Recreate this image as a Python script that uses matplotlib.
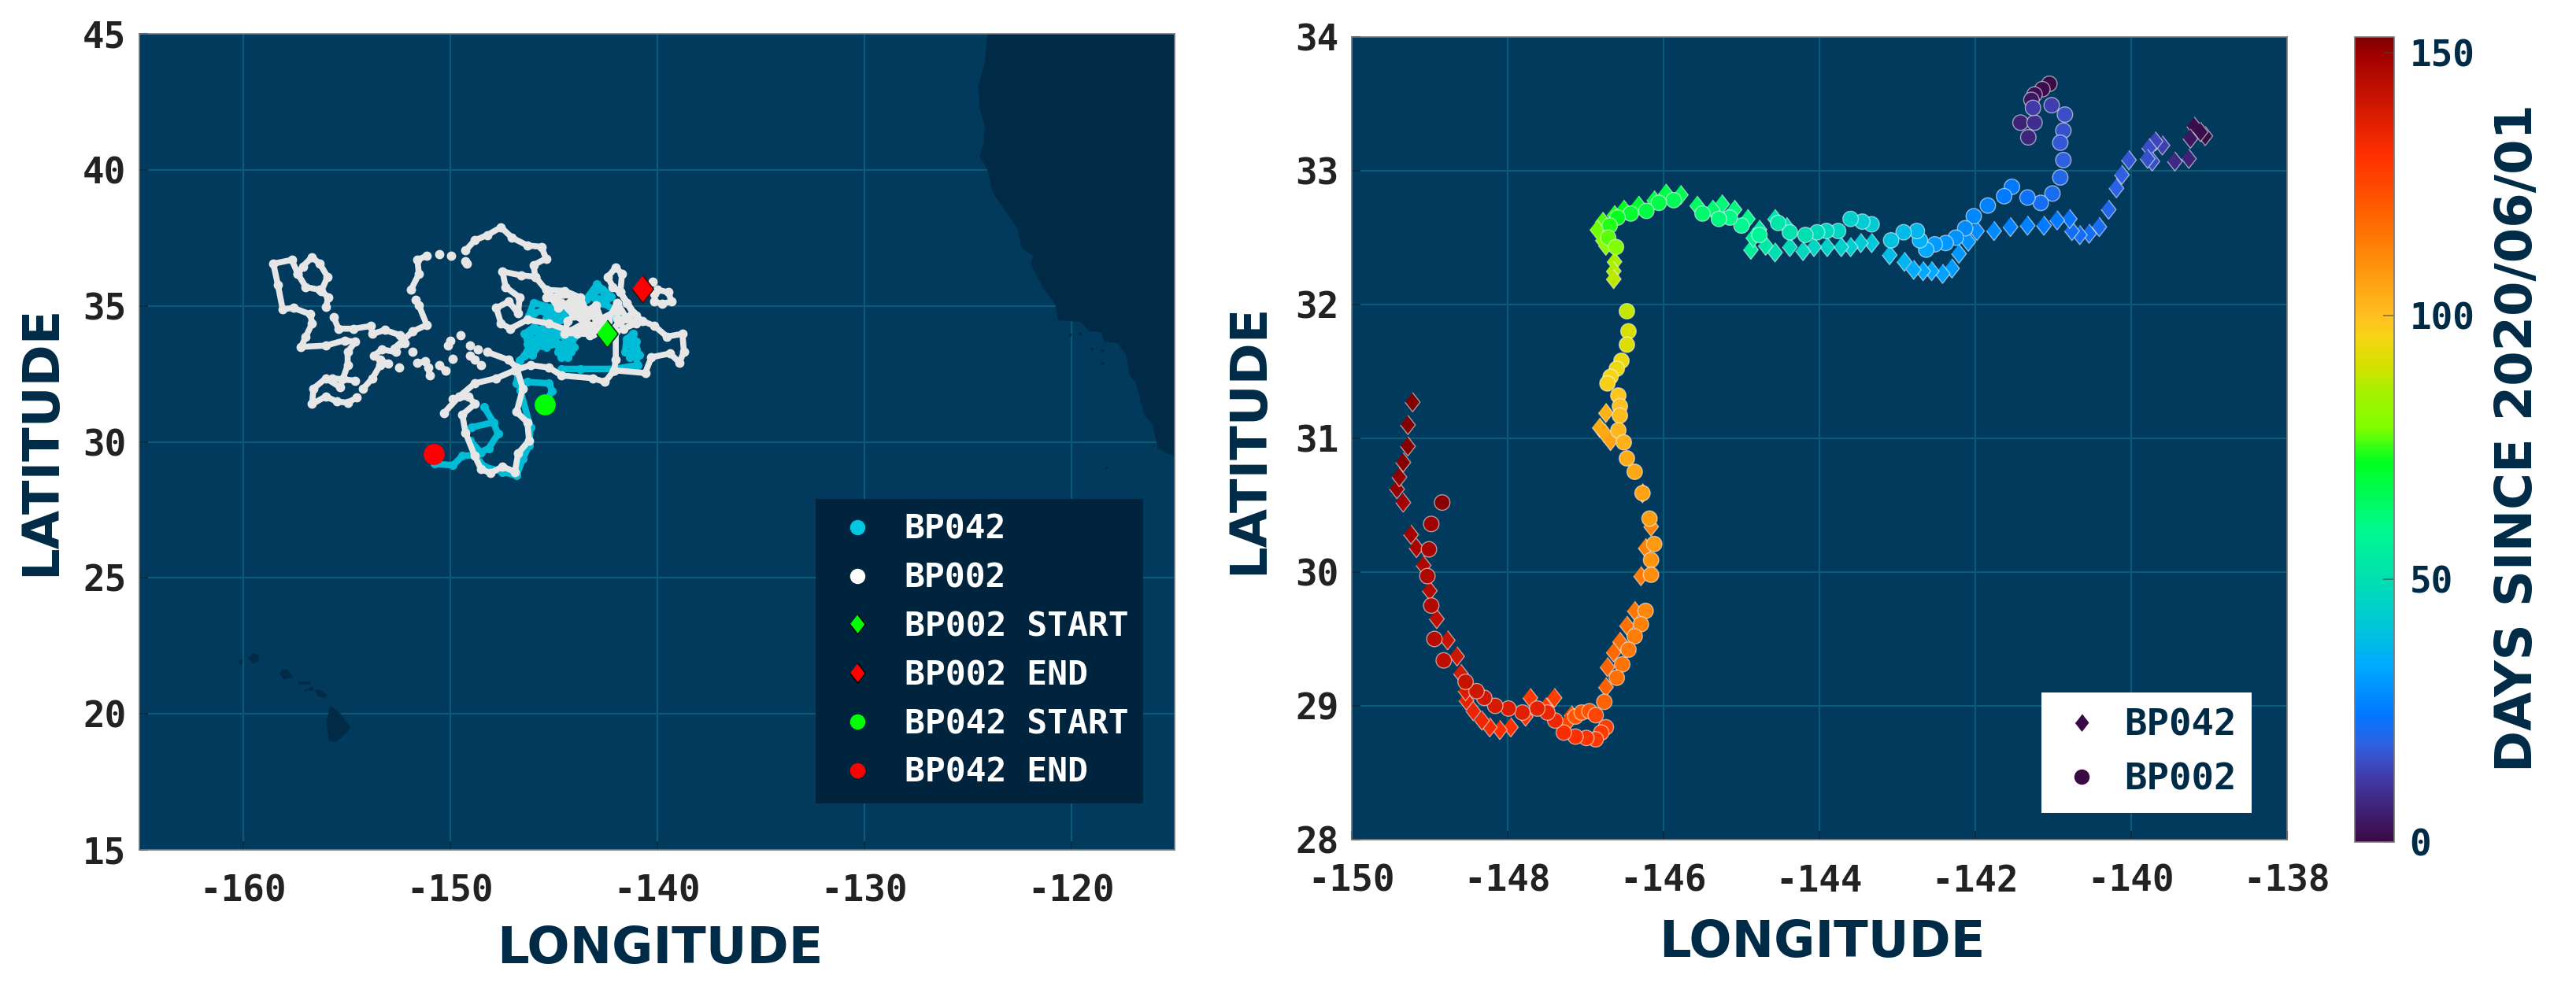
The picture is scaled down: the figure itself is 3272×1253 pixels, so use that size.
import numpy as np
import matplotlib
matplotlib.use('Agg')
import matplotlib.pyplot as plt
from matplotlib.colors import LinearSegmentedColormap, Normalize
from matplotlib.lines import Line2D

nan = np.nan

# land, left map
coast_lon = [-124.04, -124.17, -124.49, -124.42, -124.17, -124.23, -124.42, -124.04, -123.79, -123.09,
             -122.59, -122.39, -121.83, -121.95, -121.32, -120.75, -120.62, -119.54, -119.16, -118.53,
             -118.40, -117.77, -117.33, -117.19, -116.88, -116.63, -116.44, -116.06, -115.81, -115.08, -115.0, -115.0]
coast_lat = [45.0, 43.93, 43.05, 42.27, 41.61, 40.94, 40.50, 40.0, 39.17, 38.39,
             37.84, 37.12, 36.84, 36.51, 35.63, 35.02, 34.46, 34.41, 34.08, 34.02,
             33.69, 33.63, 33.19, 32.47, 32.19, 31.42, 30.97, 30.64, 29.76, 29.48, 29.45, 45.0]
hawaii_lon = [[-155.77, -155.32, -154.82, -155.01, -155.51, -155.83, -155.96],
              [-156.34, -155.96, -156.02, -156.34, -156.50],
              [-157.03, -156.59, -156.65, -157.0],
              [-157.29, -156.72, -156.75, -157.29],
              [-158.11, -157.86, -157.60, -158.05, -158.20],
              [-159.51, -159.25, -159.25, -159.51, -159.73],
              [-160.15, -160.02, -160.05, -160.17]]
hawaii_lat = [[20.27, 20.03, 19.50, 19.31, 18.97, 19.02, 19.74],
              [20.90, 20.70, 20.58, 20.64, 20.85],
              [20.90, 20.86, 20.99, 20.82],
              [21.17, 21.17, 21.10, 21.10],
              [21.62, 21.62, 21.35, 21.28, 21.48],
              [22.22, 22.15, 21.93, 21.86, 22.03],
              [21.95, 21.98, 21.85, 21.83]]
islet_lon = [-120.05, -119.6, -119.0, -118.5, -118.5, -118.3]
islet_lat = [33.95, 33.97, 33.42, 33.37, 32.92, 29.05]

# BP002 drifter track, nan splits the pieces
bp002_lon = [-155.99, -155.87, -156.21, -155.91, -156.29, -156.66, -157.11, -157.34, -156.96, -156.29, nan,
             -157.34, -157.64, -158.53, -158.31, -158.08, -157.56, -156.74, -156.66, -156.96, -157.19,
             -155.99, -155.09, -154.57, -154.94, -154.94, -155.16, -155.31, -155.99, -156.59, -156.66,
             -155.99, -155.46, -154.94, -154.49, nan,
             -155.70, -154.57, nan,
             -155.61, -155.39, -154.64, -153.82, -153.74, -153.14, -152.40, -152.17, -152.69, -151.80,
             -151.12, -151.50, -151.65, nan,
             -151.87, -151.50, -151.57, -151.12, nan, -150.52, nan, -149.93, nan, -149.25, -149.18, nan,
             -149.25, -148.80, -148.20, -147.53, -147.01, -146.26, -145.58, -145.36, -145.96, -145.88,
             -145.36, -144.46, -143.71, -143.41, -142.89, -141.92, nan,
             -145.88, -146.56, -147.46, -147.31, -146.63, -146.71, -147.16, -147.76, -147.53, -147.08,
             -146.26, -145.21, -144.16, -143.11, -144.01, -144.61, -145.36, -144.16, -143.56, -142.96,
             -142.66, -143.41, -143.86, -143.11, -142.22, -141.77, -141.17, -141.47, -141.77, -141.69,
             -141.99, -142.37, -142.14, -141.77, -141.02, -140.72, -140.12, -139.52, -138.77, -138.70,
             -138.92, -139.37, -140.27, -140.57, -142.07, -142.51, -143.11, -144.61, -145.21, -146.11,
             -146.86, -147.76, -148.80, -149.55, -150.30, nan,
             -145.21, -144.76, -144.24, -143.87, -144.31, -144.46, -143.56, -142.96, -142.81, -143.26,
             -142.37, -141.92, -141.47, -141.02, -141.62, -141.92, nan,
             -141.99, -141.99, -142.07, nan,
             -140.2, nan, -140.12, -140.12, -139.75, -139.30, -139.45, -139.97, -140.12, nan,
             -149.85, -149.10, -148.80, -149.40, -149.25, -148.80, -148.50, -148.05, -147.46, -146.86,
             -146.71, -146.18, -146.26, -146.78, -146.48, -146.78, -147.16, -148.20, nan,
             -148.50, nan, -148.80, nan, -149.03, nan, -148.65, nan, -149.03, nan, -149.48, nan, -150.0, -150.08, nan,
             -149.85, nan, -150.52, -150.22, nan, -151.57, -151.20, -151.05, -150.97, nan,
             -152.47, nan, -152.99, -153.37, -153.67, -153.29, -152.62, nan, -151.80, nan,
             -153.37, -153.74, -154.19]
bp002_lat = [34.97, 35.31, 35.55, 36.07, 36.55, 36.79, 36.45, 36.17, 35.69, 35.59, nan,
             36.17, 36.69, 36.55, 35.78, 34.88, 34.92, 34.69, 34.35, 33.87, 33.49,
             33.54, 33.73, 33.68, 33.30, 32.82, 32.34, 32.01, 32.34, 31.96, 31.39,
             31.67, 31.48, 31.44, 31.63, nan,
             32.34, 32.25, nan,
             34.59, 34.16, 34.16, 34.26, 33.97, 34.11, 33.92, 33.63, 33.44, 34.06,
             34.30, 35.02, 35.21, nan,
             35.61, 36.17, 36.69, 36.84, nan, 36.89, nan, 36.84, nan, 36.65, 36.55, nan,
             37.03, 37.41, 37.60, 37.89, 37.51, 37.22, 37.17, 36.74, 36.50, 36.07,
             35.59, 35.55, 35.31, 34.83, 34.45, 34.83, nan,
             36.07, 36.12, 36.26, 35.69, 35.31, 34.73, 35.16, 34.92, 34.35, 34.16,
             34.49, 34.35, 34.06, 34.26, 34.64, 35.12, 35.31, 35.40, 34.73, 35.02,
             34.45, 34.16, 33.97, 33.97, 34.06, 34.45, 34.73, 35.12, 35.50, 36.17,
             36.41, 36.07, 35.69, 35.50, 34.64, 34.45, 34.26, 33.87, 33.97, 33.30,
             32.92, 33.25, 33.11, 32.53, 32.63, 32.20, 32.34, 32.44, 32.73, 32.82,
             32.63, 32.34, 32.15, 31.67, 31.05, nan,
             35.40, 34.92, 35.12, 34.73, 34.45, 33.97, 34.35, 34.83, 34.16, 33.92,
             34.45, 35.12, 34.54, 34.35, 34.16, 34.54, nan,
             34.06, 33.01, 32.63, nan,
             35.88, nan, 35.45, 35.16, 35.07, 35.16, 35.50, 35.59, 35.45, nan,
             31.58, 31.67, 31.39, 31.00, 30.34, 29.48, 29.00, 28.85, 29.09, 28.90,
             29.57, 30.05, 30.72, 31.10, 31.96, 32.73, 33.01, 33.30, nan,
             32.82, nan, 33.01, nan, 33.16, nan, 33.40, nan, 33.54, nan, 33.92, nan, 33.73, 33.54, nan,
             33.06, nan, 32.82, 32.63, nan, 32.90, 32.96, 32.73, 32.44, nan,
             32.73, nan, 32.87, 33.01, 33.16, 33.40, 33.30, nan, 33.30, nan,
             32.82, 32.34, 31.96]

# BP042 drifter track
bp042_lon = [-145.43, -145.06, -145.21, -146.26, -146.78, -146.65, -146.41, -146.11, -146.41, -145.96,
             -145.36, -145.36, -144.91, -144.61, -144.16, -144.01, -144.76, -145.73, -145.96, -146.26,
             -145.55, -145.10, -144.50, nan,
             -146.26, -145.58, -145.58, -145.06, -144.46, -144.31, -144.76, -144.01, -144.46, -146.11,
             -146.04, -145.14, nan,
             -146.18, -145.96, -145.06, -144.61, -145.36, -144.40, -143.41, -142.89, -142.22, -142.66,
             -141.77, -142.29, nan,
             -145.96, -145.51, -145.06, -144.46, -144.84, nan,
             -143.11, -142.66, -142.44, -143.03, nan,
             -141.17, -140.87, -141.54, -141.47, -141.17, -140.94, -142.07, -143.71, -144.61, nan,
             -141.39, -141.02, -141.32, nan,
             -146.60, -146.11, -146.18, -146.48, -146.78, -147.46, -148.35, -148.80, -149.40, -149.85, -150.75, nan,
             -148.80, -148.13, -147.68, -147.90, -148.35, nan,
             -148.95, -147.90, nan, -149.03, -148.50]
bp042_lat = [31.39, 31.87, 32.15, 32.20, 32.15, 33.0, 33.16, 33.59, 33.97, 34.21,
             34.06, 33.49, 33.87, 33.11, 33.30, 33.87, 34.16, 33.87, 33.40, 33.60,
             33.55, 33.60, 33.50, nan,
             33.78, 33.73, 34.16, 33.63, 33.59, 33.11, 33.30, 33.49, 33.87, 34.06,
             33.20, 34.06, nan,
             34.64, 35.12, 34.92, 34.49, 34.54, 34.85, 35.26, 35.79, 35.35, 35.12,
             34.73, 34.59, nan,
             34.73, 34.83, 34.64, 34.73, 34.45, nan,
             35.50, 35.59, 35.21, 35.31, nan,
             33.97, 33.20, 33.30, 33.78, 33.97, 32.82, 32.68, 32.68, 32.68, nan,
             33.59, 33.68, 33.11, nan,
             31.90, 30.53, 29.86, 29.38, 28.76, 28.90, 29.09, 29.52, 29.48, 29.14, 29.19, nan,
             29.52, 29.76, 30.29, 30.72, 31.29, nan,
             30.53, 30.72, nan, 30.05, 29.60]

# start and end of each track
bp002_start = (-142.4, 33.97)
bp002_end = (-140.69, 35.64)
bp042_start = (-145.43, 31.37)
bp042_end = (-150.79, 29.55)

# right map, coloured by day
dia_lon = [-139.05, -139.19, -139.11, -139.24, -139.26, -139.44, -139.60, -139.69, -139.77, -139.73,
           -139.79, -140.03, -140.12, -140.19, -140.29, -140.41, -140.54, -140.66, -140.76, -140.79,
           -140.95, -141.12, -141.33, -141.55, -141.76, -141.98, -142.09, -142.21, -142.30, -142.42,
           -142.56, -142.67, -142.79, -142.91, -143.10, -143.33, -143.47, -143.60, -143.72, -143.90,
           -144.07, -144.21, -144.38, -144.42, -144.57, -144.57, -144.69, -144.77, -144.88, -144.85,
           -144.92, -145.09, -145.25, -145.37, -145.57, -145.78, -145.97, -146.12, -146.32, -146.51,
           -146.63, -146.78, -146.85, -146.78, -146.74, -146.63, -146.64, -146.64,
           -146.74, -146.82, -146.76, -146.68, -146.27, -146.16, -146.23, -146.29, -146.37, -146.47,
           -146.56, -146.64, -146.72, -146.74, -147.18, -147.24, -147.40, -147.51, -147.71, -147.77,
           -147.96, -148.10, -148.23, -148.33, -148.44, -148.53, -148.54, -148.60, -148.65, -148.77,
           -148.91, -149.00, -149.08, -149.17, -149.24, -149.34, -149.42, -149.39, -149.34, -149.28,
           -149.28, -149.22]
dia_lat = [33.26, 33.33, 33.29, 33.24, 33.09, 33.07, 33.19, 33.22, 33.17, 33.07,
           33.09, 33.08, 32.97, 32.87, 32.71, 32.58, 32.53, 32.52, 32.55, 32.64,
           32.63, 32.59, 32.59, 32.58, 32.55, 32.55, 32.47, 32.38, 32.27, 32.23,
           32.25, 32.25, 32.26, 32.32, 32.37, 32.46, 32.46, 32.43, 32.43, 32.43,
           32.43, 32.40, 32.43, 32.58, 32.39, 32.64, 32.44, 32.56, 32.41, 32.50,
           32.64, 32.71, 32.75, 32.71, 32.74, 32.82, 32.83, 32.78, 32.74, 32.71,
           32.67, 32.62, 32.56, 32.48, 32.44, 32.32, 32.25, 32.19,
           31.19, 31.08, 31.04, 30.98, 30.59, 30.34, 30.18, 29.97, 29.71, 29.60,
           29.48, 29.40, 29.29, 29.14, 28.93, 28.87, 29.06, 28.99, 29.06, 28.92,
           28.84, 28.82, 28.84, 28.89, 28.96, 29.04, 29.11, 29.24, 29.37, 29.49,
           29.65, 29.86, 30.05, 30.18, 30.28, 30.52, 30.62, 30.71, 30.82, 30.94,
           31.10, 31.27]
dia_day = [0, 1, 1, 3, 6, 8, 13, 14, 15, 15,
           16, 17, 18, 19, 20, 21, 22, 22, 22, 23,
           24, 25, 26, 26, 27, 28, 29, 30, 31, 32,
           33, 33, 34, 36, 38, 41, 42, 43, 44, 45,
           46, 47, 48, 50, 50, 52, 53, 55, 56, 57,
           60, 61, 62, 63, 64, 66, 67, 68, 70, 72,
           74, 76, 78, 80, 81, 86, 87, 88,
           103, 104, 105, 106, 110, 112, 113, 114, 115, 116,
           117, 118, 119, 120, 124, 125, 127, 128, 129, 130,
           131, 132, 133, 134, 135, 136, 138, 139, 140, 142,
           144, 146, 147, 148, 149, 150, 151, 151, 152, 152,
           153, 153]

circ_lon = [-141.05, -141.14, -141.24, -141.28, -141.42, -141.32, -141.24, -141.26, -141.02, -140.85,
            -140.87, -140.91, -140.87, -140.91, -141.01, -141.16, -141.33, -141.53, -141.63, -141.84,
            -142.02, -142.13, -142.25, -142.38, -142.52, -142.63, -142.71, -142.75, -142.92, -143.08,
            -143.33, -143.45, -143.60, -143.76, -143.91, -144.03, -144.18, -144.38, -144.53, -144.77,
            -145.00, -145.15, -145.29, -145.50, -145.87, -146.06, -146.22, -146.42, -146.59, -146.69,
            -146.71, -146.61, -146.47, -146.45, -146.47,
            -146.54, -146.60, -146.68, -146.72, -146.58, -146.56, -146.56, -146.58, -146.51, -146.47,
            -146.37, -146.27, -146.18, -146.12, -146.16, -146.16, -146.23, -146.29, -146.37, -146.45,
            -146.53, -146.60, -146.76, -147.13, -147.05, -146.95, -146.87, -146.74, -146.80, -146.87,
            -146.99, -147.13, -147.28, -147.39, -147.49, -147.62, -147.81, -147.99, -148.16, -148.30,
            -148.40, -148.54, -148.82, -148.94, -148.98, -149.03, -149.01, -148.98, -148.84]
circ_lat = [33.65, 33.61, 33.57, 33.53, 33.36, 33.25, 33.36, 33.47, 33.49, 33.42,
            33.30, 33.21, 33.08, 32.95, 32.83, 32.76, 32.80, 32.88, 32.81, 32.74,
            32.66, 32.57, 32.50, 32.46, 32.45, 32.41, 32.48, 32.55, 32.54, 32.48,
            32.60, 32.62, 32.64, 32.55, 32.55, 32.54, 32.52, 32.54, 32.61, 32.52,
            32.59, 32.65, 32.64, 32.68, 32.78, 32.76, 32.70, 32.68, 32.65, 32.59,
            32.50, 32.43, 31.95, 31.80, 31.70,
            31.58, 31.52, 31.46, 31.41, 31.32, 31.24, 31.17, 31.06, 30.97, 30.85,
            30.75, 30.59, 30.40, 30.21, 30.09, 29.98, 29.71, 29.61, 29.52, 29.42,
            29.31, 29.21, 29.03, 28.92, 28.95, 28.96, 28.93, 28.84, 28.80, 28.75,
            28.76, 28.77, 28.80, 28.89, 28.95, 28.98, 28.95, 28.98, 29.00, 29.06,
            29.11, 29.18, 29.34, 29.50, 29.75, 29.97, 30.17, 30.36, 30.52]
circ_day = [0, 1, 2, 3, 6, 7, 9, 12, 13, 15,
            16, 17, 18, 20, 21, 22, 23, 24, 25, 26,
            27, 28, 29, 30, 31, 33, 35, 37, 38, 40,
            42, 43, 44, 46, 47, 48, 50, 51, 52, 57,
            59, 60, 61, 63, 66, 67, 68, 70, 72, 74,
            77, 79, 89, 91, 92,
            94, 95, 96, 97, 99, 100, 101, 102, 103, 104,
            105, 106, 107, 108, 109, 110, 112, 113, 114, 115,
            116, 117, 119, 122, 122, 123, 125, 127, 128, 129,
            130, 131, 132, 134, 135, 136, 137, 138, 139, 140,
            141, 142, 144, 145, 146, 147, 148, 150, 152]

cbar_values = [0, 12, 18, 24, 33, 41, 50, 59, 72, 79, 86, 91, 96, 100, 108, 118, 125, 131, 140, 150, 153]
cbar_colors = ['#3a0a45', '#423aa8', '#3060e0', '#0078ff', '#00a8ff', '#00c8d8', '#00e0b0', '#00f890',
               '#00ff20', '#80ff00', '#a8f000', '#d8e000', '#f5d515', '#ffc020', '#ff9a10', '#ff6a00',
               '#ff4800', '#ff3000', '#d01800', '#a00000', '#800000']

lon_ticks_left = [-160, -150, -140, -130, -120]
lat_ticks_left = [15, 20, 25, 30, 35, 40, 45]
lon_ticks_right = [-150, -148, -146, -144, -142, -140, -138]
lat_ticks_right = [28, 29, 30, 31, 32, 33, 34]
cbar_ticks = [0, 50, 100, 150]

W, H = 3272, 1253
OCEAN = '#023a5e'
LAND = '#002a45'
NAVY = '#002b47'
GRID = '#0b5a78'
TICK_TXT = '#222222'
CYAN = '#00bcd6'
WHITE = '#e6e6e6'
DIAMOND = [(0, 1), (0.78, 0), (0, -1), (-0.78, 0)]

plt.rcParams['axes.unicode_minus'] = False
plt.rcParams['font.family'] = ['DejaVu Sans Mono']
plt.rcParams['font.weight'] = 'bold'

fig = plt.figure(figsize=(W / 100, H / 100), dpi=100)


def add_px_axes(left, top, right, bottom):
    return fig.add_axes([left / W, 1 - bottom / H, (right - left) / W, (bottom - top) / H])


def style(ax, xticks, yticks):
    ax.set_facecolor(OCEAN)
    ax.set_xticks(xticks)
    ax.set_yticks(yticks)
    ax.grid(True, color=GRID, lw=1.6)
    ax.set_axisbelow(True)
    ax.tick_params(direction='in', length=8, width=1.5, color='#0a2a40', labelsize=33,
                   labelcolor=TICK_TXT, pad=12)
    ax.tick_params(axis='x', pad=22)
    for s in ax.spines.values():
        s.set_color('#777777')
        s.set_linewidth(1.2)


# left map
ax1 = add_px_axes(177, 43, 1492, 1080)
style(ax1, lon_ticks_left, lat_ticks_left)
ax1.fill(coast_lon, coast_lat, color=LAND, lw=0, zorder=1.5)
for ilon, ilat in zip(hawaii_lon, hawaii_lat):
    ax1.fill(ilon, ilat, color=LAND, lw=0.5, zorder=1.5)
ax1.scatter(islet_lon, islet_lat, s=8, color=LAND, lw=0, zorder=1.5)

ax1.plot(bp042_lon, bp042_lat, '-o', color=CYAN, lw=6, ms=7, solid_joinstyle='round', solid_capstyle='round', zorder=3)
ax1.plot(bp002_lon, bp002_lat, '-o', color=WHITE, lw=5.5, ms=7.5, solid_joinstyle='round', solid_capstyle='round', zorder=4)
ax1.scatter(*bp002_start, marker=DIAMOND, s=640, color='#00ff00', edgecolor='#0a2a20', lw=1.2, zorder=6)
ax1.scatter(*bp002_end, marker=DIAMOND, s=640, color='#ff0000', edgecolor='#301010', lw=1.2, zorder=6)
ax1.scatter(*bp042_start, s=370, color='#00ff00', lw=0, zorder=6)
ax1.scatter(*bp042_end, s=370, color='#ff0000', lw=0, zorder=6)
ax1.set_xlim(-165, -115)
ax1.set_ylim(15, 45)

handles = [
    Line2D([], [], ls='', marker='o', ms=13, color='#00c8e0', label='BP042'),
    Line2D([], [], ls='', marker='o', ms=13, color='white', label='BP002'),
    Line2D([], [], ls='', marker=DIAMOND, ms=18, color='#00ff00', mec='black', mew=1, label='BP002 START'),
    Line2D([], [], ls='', marker=DIAMOND, ms=18, color='#ff0000', mec='black', mew=1, label='BP002 END'),
    Line2D([], [], ls='', marker='o', ms=13, color='#00ff00', label='BP042 START'),
    Line2D([], [], ls='', marker='o', ms=13, color='#ff0000', label='BP042 END'),
]
leg1 = ax1.legend(handles=handles, loc='lower left',
                  bbox_to_anchor=((1036 - 177) / 1315, (1080 - 1021) / 1037), borderaxespad=0,
                  prop={'size': 31, 'weight': 'bold', 'family': 'DejaVu Sans Mono'},
                  labelcolor='white', facecolor='#00243d', edgecolor='none', framealpha=1, fancybox=False,
                  labelspacing=0.46, handletextpad=0.6, handlelength=1.6, borderpad=0.42)
leg1.set_zorder(10)

# right map
ax2 = add_px_axes(1717, 47, 2905, 1067)
style(ax2, lon_ticks_right, lat_ticks_right)
cmap = LinearSegmentedColormap.from_list('days', [(v / 153, c) for v, c in zip(cbar_values, cbar_colors)])
norm = Normalize(0, 153)
edge = (1, 1, 1, 0.55)
ax2.scatter(dia_lon, dia_lat, c=dia_day, cmap=cmap, norm=norm, marker=DIAMOND, s=310, edgecolor=edge, lw=1, zorder=3)
sc = ax2.scatter(circ_lon, circ_lat, c=circ_day, cmap=cmap, norm=norm, marker='o', s=200, edgecolor=edge, lw=1, zorder=4)
ax2.set_xlim(-150, -138)
ax2.set_ylim(28, 34)

handles2 = [
    Line2D([], [], ls='', marker=DIAMOND, ms=15, color='#3a0a45', label='BP042'),
    Line2D([], [], ls='', marker='o', ms=13, color='#3a0a45', label='BP002'),
]
leg2 = ax2.legend(handles=handles2, loc='lower left',
                  bbox_to_anchor=((2593 - 1717) / 1188, (1067 - 1033) / 1020), borderaxespad=0,
                  prop={'size': 34, 'weight': 'bold', 'family': 'DejaVu Sans Mono'},
                  labelcolor=NAVY, facecolor='white', edgecolor='none', framealpha=1, fancybox=False,
                  labelspacing=0.5, handletextpad=0.5, handlelength=1.3, borderpad=0.42)
leg2.set_zorder(10)

# colorbar
cax = add_px_axes(2991, 47, 3041, 1070)
cb = fig.colorbar(sc, cax=cax, ticks=cbar_ticks)
cb.ax.tick_params(direction='in', length=10, width=1.5, color='#44444488', labelsize=33, labelcolor=NAVY, pad=14)
cb.outline.set_edgecolor('#777777')
cb.outline.set_linewidth(1.2)

# axis titles
title_kw = dict(family='DejaVu Sans', weight='bold', fontsize=46, color=NAVY, ha='center', va='center')
fig.text(838 / W, 1 - 1206 / H, 'LONGITUDE', **title_kw)
fig.text(2314 / W, 1 - 1198 / H, 'LONGITUDE', **title_kw)
fig.text(52 / W, 1 - 560 / H, 'LATITUDE', rotation=90, **title_kw)
fig.text(1586 / W, 1 - 558 / H, 'LATITUDE', rotation=90, **title_kw)
fig.text(3198 / W, 1 - 557 / H, 'DAYS SINCE 2020/06/01', rotation=90, **title_kw)

fig.savefig('out.png', dpi=100, facecolor='white')
